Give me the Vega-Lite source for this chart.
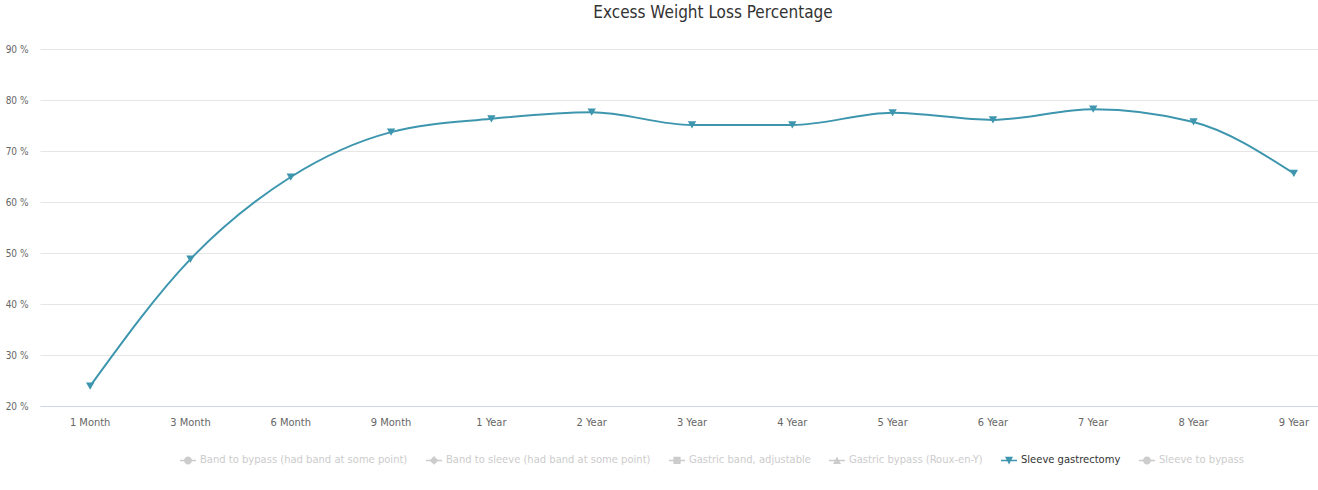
{
  "$schema": "https://vega.github.io/schema/vega-lite/v6.json",
  "width": 1278,
  "height": 357,
  "autosize": {"type": "none"},
  "padding": {"left": 40, "top": 49, "right": 0, "bottom": 84},
  "background": "#ffffff",
  "config": {
    "font": "DejaVu Sans Condensed",
    "view": {"stroke": null}
  },
  "title": {
    "text": "Excess Weight Loss Percentage",
    "fontSize": 17,
    "fontWeight": "normal",
    "color": "#333333",
    "anchor": "middle",
    "dx": 34,
    "offset": 22
  },
  "data": {
    "values": [
      {"period": "1 Month", "ewl": 23.9, "procedure": "Sleeve gastrectomy"},
      {"period": "3 Month", "ewl": 48.8, "procedure": "Sleeve gastrectomy"},
      {"period": "6 Month", "ewl": 64.9, "procedure": "Sleeve gastrectomy"},
      {"period": "9 Month", "ewl": 73.7, "procedure": "Sleeve gastrectomy"},
      {"period": "1 Year", "ewl": 76.3, "procedure": "Sleeve gastrectomy"},
      {"period": "2 Year", "ewl": 77.6, "procedure": "Sleeve gastrectomy"},
      {"period": "3 Year", "ewl": 75.1, "procedure": "Sleeve gastrectomy"},
      {"period": "4 Year", "ewl": 75.1, "procedure": "Sleeve gastrectomy"},
      {"period": "5 Year", "ewl": 77.5, "procedure": "Sleeve gastrectomy"},
      {"period": "6 Year", "ewl": 76.1, "procedure": "Sleeve gastrectomy"},
      {"period": "7 Year", "ewl": 78.2, "procedure": "Sleeve gastrectomy"},
      {"period": "8 Year", "ewl": 75.7, "procedure": "Sleeve gastrectomy"},
      {"period": "9 Year", "ewl": 65.6, "procedure": "Sleeve gastrectomy"}
    ]
  },
  "encoding": {
    "x": {
      "field": "period",
      "type": "nominal",
      "sort": null,
      "scale": {"type": "band", "range": [0, 1304], "paddingInner": 0, "paddingOuter": 0},
      "axis": {
        "title": null,
        "labelAngle": 0,
        "ticks": false,
        "domainColor": "#ccd6eb",
        "domainWidth": 1,
        "labelColor": "#666666",
        "labelFontSize": 11,
        "labelPadding": 10
      }
    },
    "y": {
      "field": "ewl",
      "type": "quantitative",
      "scale": {"domain": [20, 90], "nice": false, "zero": false},
      "axis": {
        "title": null,
        "values": [20, 30, 40, 50, 60, 70, 80, 90],
        "labelExpr": "datum.value + ' %'",
        "domain": false,
        "ticks": false,
        "gridColor": "#e6e6e6",
        "labelColor": "#666666",
        "labelFontSize": 10,
        "labelPadding": 12
      }
    }
  },
  "layer": [
    {
      "mark": {"type": "line", "interpolate": "monotone", "color": "#3D96AE", "strokeWidth": 2}
    },
    {
      "mark": {"type": "point", "shape": "triangle-down", "filled": true, "size": 70, "opacity": 1, "color": "#3D96AE"}
    },
    {
      "mark": {"type": "point", "filled": true, "opacity": 0, "size": 256},
      "encoding": {
        "color": {
          "field": "procedure",
          "type": "nominal",
          "scale": {
            "domain": [
              "Band to bypass (had band at some point)",
              "Band to sleeve (had band at some point)",
              "Gastric band, adjustable",
              "Gastric bypass (Roux-en-Y)",
              "Sleeve gastrectomy",
              "Sleeve to bypass"
            ],
            "range": ["#cccccc", "#cccccc", "#cccccc", "#cccccc", "#3D96AE", "#cccccc"]
          },
          "legend": {
            "title": null,
            "orient": "none",
            "direction": "horizontal",
            "legendX": 140,
            "legendY": 403,
            "columnPadding": 18,
            "symbolSize": 256,
            "symbolOpacity": 1,
            "symbolStrokeWidth": 0,
            "labelFontSize": 11.1,
            "labelLimit": 0,
            "labelOffset": 4,
            "encode": {
              "labels": {
                "update": {
                  "fill": {"signal": "datum.value === 'Sleeve gastrectomy' ? '#333333' : '#cccccc'"}
                }
              }
            }
          }
        },
        "shape": {
          "field": "procedure",
          "type": "nominal",
          "scale": {
            "domain": [
              "Band to bypass (had band at some point)",
              "Band to sleeve (had band at some point)",
              "Gastric band, adjustable",
              "Gastric bypass (Roux-en-Y)",
              "Sleeve gastrectomy",
              "Sleeve to bypass"
            ],
            "range": [
              "M-1,-0.09H1V0.09H-1Z M-0.5,0A0.5,0.5,0,1,1,0.5,0A0.5,0.5,0,1,1,-0.5,0Z",
              "M-1,-0.09H1V0.09H-1Z M0,-0.55L0.55,0L0,0.55L-0.55,0Z",
              "M-1,-0.09H1V0.09H-1Z M-0.45,-0.45H0.45V0.45H-0.45Z",
              "M-1,-0.09H1V0.09H-1Z M0,-0.5L0.5,0.45H-0.5Z",
              "M-1,-0.09H1V0.09H-1Z M-0.5,-0.45H0.5L0,0.5Z",
              "M-1,-0.09H1V0.09H-1Z M-0.5,0A0.5,0.5,0,1,1,0.5,0A0.5,0.5,0,1,1,-0.5,0Z"
            ]
          },
          "legend": {
            "title": null,
            "orient": "none",
            "direction": "horizontal",
            "legendX": 140,
            "legendY": 403,
            "columnPadding": 18,
            "symbolSize": 256,
            "symbolOpacity": 1,
            "symbolStrokeWidth": 0,
            "labelFontSize": 11.1,
            "labelLimit": 0,
            "labelOffset": 4,
            "encode": {
              "labels": {
                "update": {
                  "fill": {"signal": "datum.value === 'Sleeve gastrectomy' ? '#333333' : '#cccccc'"}
                }
              }
            }
          }
        }
      }
    }
  ]
}
